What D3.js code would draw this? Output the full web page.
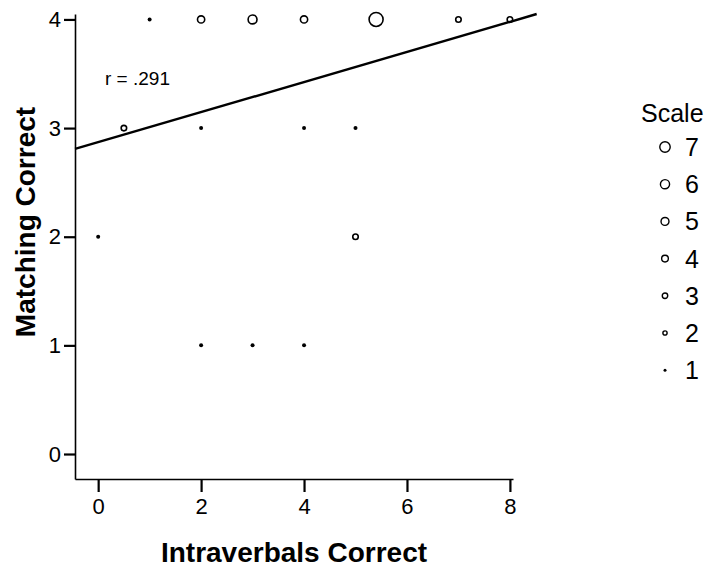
<!DOCTYPE html>
<html>
<head>
<meta charset="utf-8">
<script src="https://cdn.jsdelivr.net/npm/d3@7"></script>
<style>
  html, body { margin: 0; padding: 0; background: #fff; }
  svg { display: block; font-family: "Liberation Sans", Arial, sans-serif; }
</style>
</head>
<body>
<svg id="chart" width="719" height="567"></svg>
<script>
// Observations: Intraverbals correct (x), Matching correct (y), number of cases at the point
const intraverbals = [1, 2, 3, 4, 5.4, 7, 8, 0.5, 2, 4, 5, 0, 5, 2, 3, 4];
const matching     = [4, 4, 4, 4, 4,   4, 4, 3,   3, 3, 3, 2, 2, 1, 1, 1];
const caseCounts   = [1, 3, 4, 3, 7,   2, 2, 2,   1, 1, 1, 1, 2, 1, 1, 1];

// Fitted linear regression line and correlation
const fitIntercept = 2.87;
const fitSlope = 0.1385;
const rLabel = "r = .291";

const xTicks = [0, 2, 4, 6, 8];
const yTicks = [0, 1, 2, 3, 4];
const legendLevels = [7, 6, 5, 4, 3, 2, 1];

const svg = d3.select("#chart");

const x = d3.scaleLinear().domain([-0.45, 8.06]).range([75, 513]);
const y = d3.scaleLinear().domain([-0.23, 4.05]).range([479, 14]);

// marker radius grows with the number of cases
const rPlot = d3.scaleLinear().domain([1, 7]).range([1.9, 7]);
const rLegend = d3.scaleLinear().domain([1, 7]).range([1.5, 5.2]);

// axes
const xAxis = svg.append("g")
  .attr("transform", `translate(0,${y.range()[0]})`)
  .call(d3.axisBottom(x).tickValues(xTicks).tickSize(13).tickSizeOuter(0).tickPadding(6)
    .tickFormat(d3.format("d")));
const yAxis = svg.append("g")
  .attr("transform", `translate(${x.range()[0]},0)`)
  .call(d3.axisLeft(y).tickValues(yTicks).tickSize(11).tickSizeOuter(0).tickPadding(3)
    .tickFormat(d3.format("d")));

[xAxis, yAxis].forEach(g => {
  g.select(".domain").attr("stroke", "#000").attr("stroke-width", 1.6);
  g.selectAll(".tick line").attr("stroke", "#000").attr("stroke-width", 2.2);
  g.selectAll(".tick text")
    .attr("fill", "#000")
    .style("font-family", "'Liberation Sans', Arial, sans-serif")
    .style("font-size", "22px");
});

// regression line, clipped at the top of the value range
const xEnd = (y.domain()[1] - fitIntercept) / fitSlope;
const xStart = x.domain()[0];
svg.append("line")
  .attr("x1", x(xStart)).attr("y1", y(fitIntercept + fitSlope * xStart))
  .attr("x2", x(xEnd)).attr("y2", y(fitIntercept + fitSlope * xEnd))
  .attr("stroke", "#000").attr("stroke-width", 2.4);

// scatter points
const points = intraverbals.map((v, i) => ({ x: v, y: matching[i], n: caseCounts[i] }));
svg.append("g").selectAll("circle")
  .data(points)
  .join("circle")
  .attr("cx", d => x(d.x))
  .attr("cy", d => y(d.y))
  .attr("r", d => d.n === 1 ? 2 : rPlot(d.n))
  .attr("fill", d => d.n === 1 ? "#000" : "none")
  .attr("stroke", "#000")
  .attr("stroke-width", d => d.n === 1 ? 0 : 1.6);

// correlation label
svg.append("text")
  .attr("x", 105).attr("y", 85)
  .style("font-size", "19px")
  .text(rLabel);

// axis titles
svg.append("text")
  .attr("x", 294).attr("y", 562)
  .attr("text-anchor", "middle")
  .style("font-size", "28px").style("font-weight", "bold")
  .text("Intraverbals Correct");
svg.append("text")
  .attr("transform", "translate(35,222) rotate(-90)")
  .attr("text-anchor", "middle")
  .style("font-size", "28px").style("font-weight", "bold")
  .text("Matching Correct");

// size legend
const legend = svg.append("g");
legend.append("text")
  .attr("x", 641).attr("y", 122)
  .style("font-size", "25px")
  .text("Scale");
const rows = legend.selectAll("g.row")
  .data(legendLevels)
  .join("g")
  .attr("class", "row")
  .attr("transform", (d, i) => `translate(0,${147 + i * 37.2})`);
rows.append("circle")
  .attr("cx", 665).attr("cy", 0)
  .attr("r", d => rLegend(d))
  .attr("fill", d => d === 1 ? "#000" : "none")
  .attr("stroke", "#000")
  .attr("stroke-width", d => d === 1 ? 0 : 1.4);
rows.append("text")
  .attr("x", 685).attr("y", 9)
  .style("font-size", "25px")
  .text(d => d);
</script>
</body>
</html>
